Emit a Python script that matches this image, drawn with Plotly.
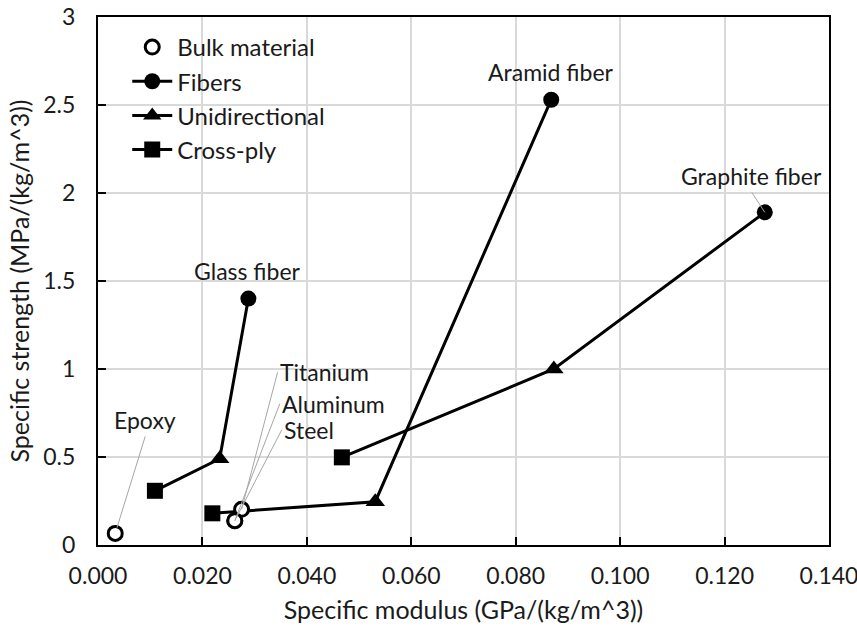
import plotly.graph_objects as go

# ---- data ----
materials = ["Glass", "Aramid", "Graphite"]
fiber_x = [0.0288, 0.0868, 0.1277]
fiber_y = [1.40, 2.53, 1.89]
ud_x = [0.0233, 0.0531, 0.0873]
ud_y = [0.49, 0.246, 1.00]
cp_x = [0.0109, 0.0219, 0.0467]
cp_y = [0.308, 0.18, 0.498]
bulk_names = ["Epoxy", "Titanium", "Aluminum", "Steel"]
bulk_x = [0.0033, 0.0275, 0.0262, 0.0262]
bulk_y = [0.066, 0.203, 0.138, 0.138]
fiber_labels = ["Glass fiber", "Aramid fiber", "Graphite fiber"]

FONT = "Lato"
TXT = "#1a1a1a"
fig = go.Figure()

# connecting lines per material: fiber -> unidirectional -> cross-ply
for i, m in enumerate(materials):
    fig.add_trace(go.Scatter(
        x=[fiber_x[i], ud_x[i], cp_x[i]], y=[fiber_y[i], ud_y[i], cp_y[i]],
        mode="lines", line=dict(color="black", width=3),
        showlegend=False, hoverinfo="skip"))

def gapped(v):
    out = []
    for k, a in enumerate(v):
        if k:
            out.append(None)
        out.append(a)
    return out

fig.add_trace(go.Scatter(
    x=bulk_x, y=bulk_y, mode="markers", name="Bulk material",
    marker=dict(symbol="circle", size=14, color="white",
                line=dict(color="black", width=3)),
    text=bulk_names))
fig.add_trace(go.Scatter(
    x=gapped(fiber_x), y=gapped(fiber_y), mode="lines+markers", name="Fibers",
    line=dict(color="black", width=3),
    marker=dict(symbol="circle", size=16, color="black")))
fig.add_trace(go.Scatter(
    x=gapped(ud_x), y=gapped(ud_y), mode="lines+markers", name="Unidirectional",
    line=dict(color="black", width=3),
    marker=dict(symbol="triangle-up", size=17, color="black")))
fig.add_trace(go.Scatter(
    x=gapped(cp_x), y=gapped(cp_y), mode="lines+markers", name="Cross-ply",
    line=dict(color="black", width=3),
    marker=dict(symbol="square", size=16, color="black")))

ann_font = dict(family=FONT, size=23, color=TXT)
lead = "#a6a6a6"
# fiber labels
fig.add_annotation(x=fiber_x[0], y=fiber_y[0], text=fiber_labels[0], showarrow=False,
                   yshift=28, xshift=-1, font=ann_font)
fig.add_annotation(x=fiber_x[1], y=fiber_y[1], text=fiber_labels[1], showarrow=False,
                   yshift=28, font=ann_font)
fig.add_annotation(x=fiber_x[2], y=fiber_y[2], text=fiber_labels[2], showarrow=True,
                   arrowhead=0, arrowwidth=1, arrowcolor=lead, ax=-13, ay=-20,
                   yanchor="bottom", font=ann_font)
# bulk labels
fig.add_annotation(x=bulk_x[0], y=bulk_y[0], text=bulk_names[0], showarrow=True,
                   arrowhead=0, arrowwidth=1, arrowcolor=lead, ax=30, ay=-97,
                   yanchor="bottom", standoff=6, font=ann_font)
fig.add_annotation(x=bulk_x[1], y=bulk_y[1], text=bulk_names[1], showarrow=True,
                   arrowhead=0, arrowwidth=1, arrowcolor=lead, ax=36, ay=-137,
                   xanchor="left", font=ann_font)
fig.add_annotation(x=bulk_x[2], y=bulk_y[2], text=bulk_names[2], showarrow=True,
                   arrowhead=0, arrowwidth=1, arrowcolor=lead, ax=45, ay=-117,
                   xanchor="left", font=ann_font)
fig.add_annotation(x=bulk_x[3], y=bulk_y[3], text=bulk_names[3], showarrow=True,
                   arrowhead=0, arrowwidth=1, arrowcolor=lead, ax=47, ay=-91,
                   xanchor="left", font=ann_font)

axis_common = dict(
    showline=True, linecolor="black", linewidth=2, mirror=True,
    showgrid=True, gridcolor="#d9d9d9", gridwidth=1.5, zeroline=False,
    ticks="inside", ticklen=8, tickwidth=2, tickcolor="black",
    tickfont=dict(family=FONT, size=23, color=TXT), automargin=False,
    ticklabeloverflow="allow",
)
fig.update_xaxes(range=[0, 0.14], dtick=0.02, tick0=0, tickformat=".3f",
                 title=dict(text="Specific modulus (GPa/(kg/m^3))",
                            font=dict(family=FONT, size=25, color=TXT), standoff=14),
                 ticklabelstandoff=9, **axis_common)
fig.update_yaxes(range=[0, 3], dtick=0.5, tick0=0,
                 title=dict(text="Specific strength (MPa/(kg/m^3))",
                            font=dict(family=FONT, size=25, color=TXT), standoff=7),
                 ticklabelstandoff=16, **axis_common)

fig.update_layout(
    width=857, height=627,
    margin=dict(l=98, r=28, t=17, b=82, autoexpand=False),
    paper_bgcolor="white", plot_bgcolor="white",
    font=dict(family=FONT, color=TXT),
    legend=dict(x=0.04, y=0.985, xanchor="left", yanchor="top",
                bgcolor="rgba(255,255,255,0)", font=dict(family=FONT, size=24, color=TXT),
                itemwidth=40, tracegroupgap=0),
)

# remove the default 8 px page margin so the figure fills the window exactly
fig.write_html("out.html", config={"displayModeBar": False},
               post_script="document.body.style.margin='0px';")
